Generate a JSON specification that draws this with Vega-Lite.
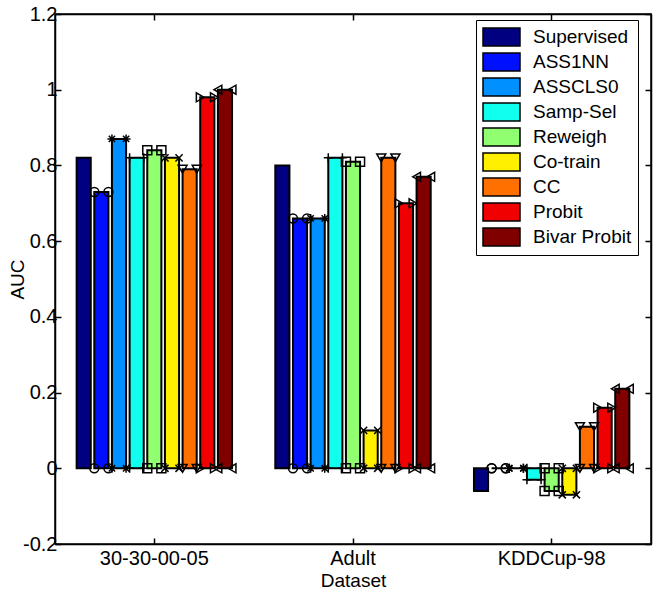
{
  "$schema": "https://vega.github.io/schema/vega-lite/v6.json",
  "width": 596,
  "height": 530,
  "autosize": {"type": "none"},
  "padding": {"left": 55, "top": 14, "right": 2, "bottom": 48},
  "background": "white",
  "config": {
    "font": "Liberation Sans",
    "view": {"stroke": "black", "strokeWidth": 1.5},
    "axis": {
      "domainColor": "black", "domainWidth": 1.5,
      "tickColor": "black", "tickWidth": 1.5,
      "labelColor": "black", "titleColor": "black",
      "labelFont": "Liberation Sans", "titleFont": "Liberation Sans",
      "labelFontSize": 20, "titleFontSize": 19, "titleFontWeight": "normal",
      "grid": false
    }
  },
  "data": {
    "values": [
      {"dataset": "30-30-00-05", "method": "Supervised", "auc": 0.82},
      {"dataset": "30-30-00-05", "method": "ASS1NN", "auc": 0.73},
      {"dataset": "30-30-00-05", "method": "ASSCLS0", "auc": 0.87},
      {"dataset": "30-30-00-05", "method": "Samp-Sel", "auc": 0.82},
      {"dataset": "30-30-00-05", "method": "Reweigh", "auc": 0.84},
      {"dataset": "30-30-00-05", "method": "Co-train", "auc": 0.82},
      {"dataset": "30-30-00-05", "method": "CC", "auc": 0.79},
      {"dataset": "30-30-00-05", "method": "Probit", "auc": 0.98},
      {"dataset": "30-30-00-05", "method": "Bivar Probit", "auc": 1.0},
      {"dataset": "Adult", "method": "Supervised", "auc": 0.80},
      {"dataset": "Adult", "method": "ASS1NN", "auc": 0.66},
      {"dataset": "Adult", "method": "ASSCLS0", "auc": 0.66},
      {"dataset": "Adult", "method": "Samp-Sel", "auc": 0.82},
      {"dataset": "Adult", "method": "Reweigh", "auc": 0.81},
      {"dataset": "Adult", "method": "Co-train", "auc": 0.10},
      {"dataset": "Adult", "method": "CC", "auc": 0.82},
      {"dataset": "Adult", "method": "Probit", "auc": 0.70},
      {"dataset": "Adult", "method": "Bivar Probit", "auc": 0.77},
      {"dataset": "KDDCup-98", "method": "Supervised", "auc": -0.06},
      {"dataset": "KDDCup-98", "method": "ASS1NN", "auc": 0.0},
      {"dataset": "KDDCup-98", "method": "ASSCLS0", "auc": 0.0},
      {"dataset": "KDDCup-98", "method": "Samp-Sel", "auc": -0.03},
      {"dataset": "KDDCup-98", "method": "Reweigh", "auc": -0.06},
      {"dataset": "KDDCup-98", "method": "Co-train", "auc": -0.07},
      {"dataset": "KDDCup-98", "method": "CC", "auc": 0.11},
      {"dataset": "KDDCup-98", "method": "Probit", "auc": 0.16},
      {"dataset": "KDDCup-98", "method": "Bivar Probit", "auc": 0.21}
    ]
  },
  "layer": [
    {
      "mark": {"type": "bar", "stroke": "black", "strokeWidth": 2, "opacity": 1},
      "encoding": {
        "x": {
          "field": "dataset", "type": "nominal",
          "scale": {"domain": ["30-30-00-05", "Adult", "KDDCup-98"], "paddingInner": 0.2, "paddingOuter": 0.1},
          "axis": {"orient": "bottom", "title": "Dataset", "labelAngle": 0, "tickSize": -6, "labelPadding": 10, "titlePadding": 3}
        },
        "xOffset": {
          "field": "method", "type": "nominal",
          "scale": {"domain": ["Supervised", "ASS1NN", "ASSCLS0", "Samp-Sel", "Reweigh", "Co-train", "CC", "Probit", "Bivar Probit"], "paddingInner": 0.2, "paddingOuter": 0.1}
        },
        "y": {
          "field": "auc", "type": "quantitative",
          "scale": {"domain": [-0.2, 1.2], "nice": false},
          "axis": {"title": "AUC", "orient": "left", "values": [-0.2, 0, 0.2, 0.4, 0.6, 0.8, 1, 1.2], "labelExpr": "'' + round(datum.value * 10) / 10", "tickSize": -6, "labelPadding": 4, "titlePadding": -5}
        },
        "color": {
          "field": "method", "type": "nominal",
          "scale": {
            "domain": ["Supervised", "ASS1NN", "ASSCLS0", "Samp-Sel", "Reweigh", "Co-train", "CC", "Probit", "Bivar Probit"],
            "range": ["#000080", "#0010FF", "#0090FF", "#10FFEF", "#90FF70", "#FFF000", "#FF7000", "#F00000", "#800000"]
          },
          "legend": {
            "title": null, "orient": "none", "legendX": 421, "legendY": 6,
            "symbolType": "M-1,-0.9L2.7,-0.9L2.7,0.9L-1,0.9Z", "symbolSize": 400,
            "symbolStrokeColor": "black", "symbolStrokeWidth": 1.5, "symbolOpacity": 1,
            "labelFontSize": 19, "labelFont": "Liberation Sans", "labelColor": "black",
            "labelOffset": 29, "padding": 6, "strokeColor": "black", "fillColor": "white",
            "rowPadding": 1, "labelLimit": 200
          }
        }
      }
    },
    {
      "transform": [{"filter": "datum.method != 'Supervised'"}],
      "mark": {"type": "point", "filled": false, "stroke": "black", "strokeWidth": 1.5, "size": 81, "opacity": 1},
      "encoding": {
        "x": {"field": "dataset", "type": "nominal", "axis": {"orient": "top", "labels": false, "title": null, "tickSize": -6}},
        "xOffset": {"field": "method", "type": "nominal", "scale": {"type": "point", "domain": ["Supervised", "ASS1NN", "ASSCLS0", "Samp-Sel", "Reweigh", "Co-train", "CC", "Probit", "Bivar Probit"], "padding": 0.5, "align": 0.1}},
        "y": {"field": "auc", "type": "quantitative", "axis": {"orient": "right", "labels": false, "title": null, "values": [-0.2, 0, 0.2, 0.4, 0.6, 0.8, 1, 1.2], "tickSize": -6}},
        "shape": {"field": "method", "type": "nominal", "scale": {"domain": ["ASS1NN", "ASSCLS0", "Samp-Sel", "Reweigh", "Co-train", "CC", "Probit", "Bivar Probit"], "range": ["circle", "M-1,0L1,0M0,-1L0,1M-0.7,-0.7L0.7,0.7M-0.7,0.7L0.7,-0.7", "M-1,0L1,0M0,-1L0,1", "square", "M-0.8,-0.8L0.8,0.8M-0.8,0.8L0.8,-0.8", "triangle-down", "triangle-right", "triangle-left"]}, "legend": null}
      }
    },
    {
      "transform": [{"filter": "datum.method != 'Supervised'"}],
      "mark": {"type": "point", "filled": false, "stroke": "black", "strokeWidth": 1.5, "size": 81, "opacity": 1},
      "encoding": {
        "x": {"field": "dataset", "type": "nominal", "axis": null},
        "xOffset": {"field": "method", "type": "nominal", "scale": {"type": "point", "domain": ["Supervised", "ASS1NN", "ASSCLS0", "Samp-Sel", "Reweigh", "Co-train", "CC", "Probit", "Bivar Probit"], "padding": 0.5, "align": 0.9}},
        "y": {"field": "auc", "type": "quantitative", "axis": null},
        "shape": {"field": "method", "type": "nominal", "legend": null}
      }
    },
    {
      "transform": [{"filter": "datum.method != 'Supervised'"}],
      "mark": {"type": "point", "filled": false, "stroke": "black", "strokeWidth": 1.5, "size": 81, "opacity": 1},
      "encoding": {
        "x": {"field": "dataset", "type": "nominal", "axis": null},
        "xOffset": {"field": "method", "type": "nominal", "scale": {"type": "point", "domain": ["Supervised", "ASS1NN", "ASSCLS0", "Samp-Sel", "Reweigh", "Co-train", "CC", "Probit", "Bivar Probit"], "padding": 0.5, "align": 0.1}},
        "y": {"datum": 0, "type": "quantitative", "axis": null},
        "shape": {"field": "method", "type": "nominal", "legend": null}
      }
    },
    {
      "transform": [{"filter": "datum.method != 'Supervised'"}],
      "mark": {"type": "point", "filled": false, "stroke": "black", "strokeWidth": 1.5, "size": 81, "opacity": 1},
      "encoding": {
        "x": {"field": "dataset", "type": "nominal", "axis": null},
        "xOffset": {"field": "method", "type": "nominal", "scale": {"type": "point", "domain": ["Supervised", "ASS1NN", "ASSCLS0", "Samp-Sel", "Reweigh", "Co-train", "CC", "Probit", "Bivar Probit"], "padding": 0.5, "align": 0.9}},
        "y": {"datum": 0, "type": "quantitative", "axis": null},
        "shape": {"field": "method", "type": "nominal", "legend": null}
      }
    }
  ],
  "resolve": {
    "scale": {"xOffset": "independent"},
    "axis": {"x": "independent", "y": "independent"}
  }
}
